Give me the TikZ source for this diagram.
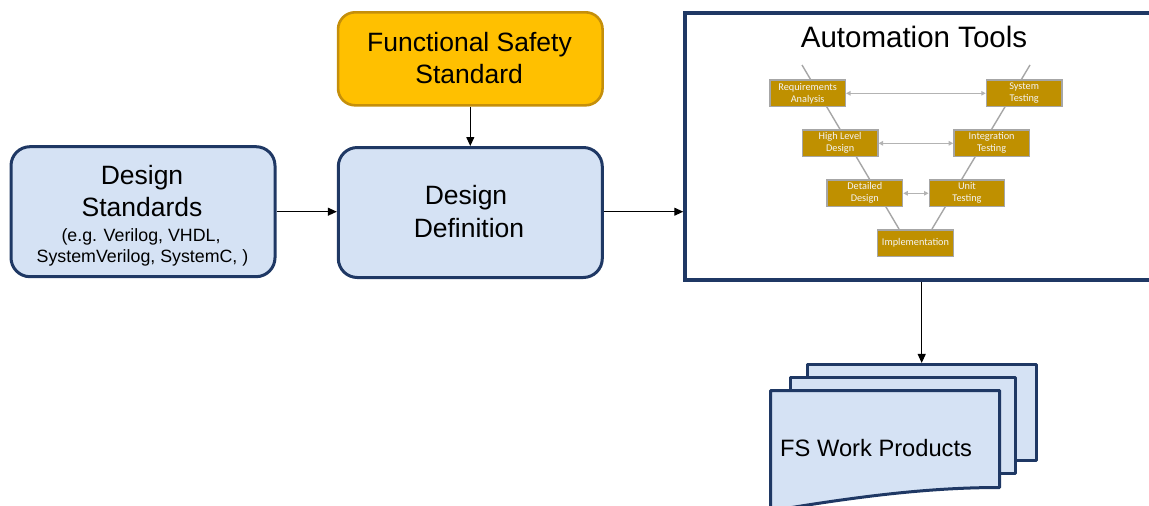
\documentclass[tikz,border=0pt]{standalone}
\usepackage{fontspec}
\setmainfont{Liberation Sans}
\newfontfamily\vfont{Carlito}
\usetikzlibrary{arrows.meta,calc}

\definecolor{navy}{HTML}{1F3864}
\definecolor{boxblue}{HTML}{D5E2F4}
\definecolor{safegold}{HTML}{FFC000}
\definecolor{safeedge}{HTML}{C58F0A}
\definecolor{vgold}{HTML}{BF9000}
\definecolor{vgrey}{HTML}{A6A6A6}
\definecolor{vtext}{HTML}{F4F4F4}

\newcommand{\fsz}[2]{\fontsize{#1}{#2}\selectfont}

\begin{document}
\begin{tikzpicture}[x=1pt,y=-1pt,
  bluebox/.style={draw=navy, line width=3pt, fill=boxblue, rounded corners=19pt, inner sep=0pt},
  goldbox/.style={draw=safeedge, line width=2.6pt, fill=safegold, rounded corners=17pt, inner sep=0pt},
  framebox/.style={draw=navy, line width=3.5pt, fill=white, inner sep=0pt},
  docsheet/.style={draw=navy, line width=3pt, fill=boxblue, line join=round, inner sep=0pt},
  bigtext/.style={font=\fsz{26.5}{30}, text=black, inner sep=0pt, anchor=base},
  smalltext/.style={font=\fsz{17.8}{21}, text=black, inner sep=0pt, anchor=base},
  vbox/.style={draw=vgrey, line width=1.4pt, fill=vgold, minimum width=75.5pt,
    minimum height=26.5pt, inner sep=0pt, text=vtext, align=center,
    font=\vfont\fsz{10.3}{12}},
  flow/.style={-{Triangle[length=9pt,width=8pt]}, line width=1.1pt, black},
  vline/.style={draw=vgrey, line width=1.4pt},
  vlink/.style={{Triangle[length=4.5pt,width=4.5pt]}-{Triangle[length=4.5pt,width=4.5pt]},
    draw=vgrey!85, line width=1.2pt}
]
\useasboundingbox (0,0) rectangle (1149,506);
\clip (0,0) rectangle (1149,506);

% main process boxes
\node[bluebox, minimum width=264pt, minimum height=130pt] (ds) at (143,211.7) {};
\node[bluebox, minimum width=264pt, minimum height=130pt] (dd) at (470.3,212.5) {};
\node[goldbox, minimum width=264.5pt, minimum height=93pt] (fs) at (470.3,58.8) {};
\node[framebox, minimum width=480pt, minimum height=267pt] (auto) at (925,146.5) {};

% box texts
\node[bigtext] (ds-a) at (142,184.3) {Design};
\node[bigtext] (ds-b) at (142,216) {Standards};
\node[smalltext] (ds-c) at (141,241) {(e.g. Verilog, VHDL,};
\node[smalltext] (ds-d) at (142.5,262.7) {SystemVerilog, SystemC, )};
\node[bigtext] (dd-a) at (466,204) {Design};
\node[bigtext] (dd-b) at (469,237.3) {Definition};
\node[bigtext] (fs-a) at (469.5,51.7) {Functional Safety};
\node[bigtext] (fs-b) at (469.2,83.3) {Standard};
\node[font=\fsz{29.5}{34}, inner sep=0pt, anchor=base] (auto-t) at (914,47.3) {Automation Tools};

% V-model: the two legs behind the stages
\coordinate (vl-top) at (802,65);
\coordinate (vl-bot) at (899,229);
\coordinate (vr-top) at (1030,65);
\coordinate (vr-bot) at (932,229);
\draw[vline] (vl-top) -- (vl-bot);
\draw[vline] (vr-top) -- (vr-bot);

% V-model stages
\node[vbox] (req) at (807.6,93.3) {Requirements\\Analysis};
\node[vbox] (sys) at (1024.2,93.3) {System\\Testing};
\node[vbox] (hld) at (840.1,143.3) {High Level\\Design};
\node[vbox] (int) at (991.6,143.3) {Integration\\Testing};
\node[vbox] (det) at (864.8,193.3) {Detailed\\Design};
\node[vbox] (unit) at (967,193.3) {Unit\\Testing};
\node[vbox] (impl) at (915.5,243.2) {Implementation};

% verification links
\draw[vlink] (req.east) -- (sys.west);
\draw[vlink] (hld.east) -- (int.west);
\draw[vlink] (det.east) -- (unit.west);

% stack of work product sheets
\node[docsheet, minimum width=229pt, minimum height=95.7pt] (doc3) at (921.7,412.3) {};
\node[docsheet, minimum width=225pt, minimum height=96pt] (doc2) at (903,425.5) {};
\coordinate (doc1-nw) at (770.5,390.5);
\coordinate (doc1-ne) at (999.5,390.5);
\coordinate (doc1-se) at (999.5,487.5);
\coordinate (doc1-sw) at (770.5,511);
\draw[docsheet] (doc1-nw) -- (doc1-ne) -- (doc1-se)
  .. controls (930,487.5) and (860,496) .. (doc1-sw) -- cycle;
\node[font=\fsz{23.7}{28}, inner sep=0pt, anchor=base west] (doc1-t) at (780,456) {FS Work Products};

% flow arrows
\draw[flow] (fs.south) -- (dd.north);
\draw[flow] (ds.east) -- (ds.east -| dd.west);
\draw[flow] (dd.east |- ds.east) -- (ds.east -| auto.west);
\draw[flow] (auto.south -| doc3.north) -- (doc3.north);
\end{tikzpicture}
\end{document}
